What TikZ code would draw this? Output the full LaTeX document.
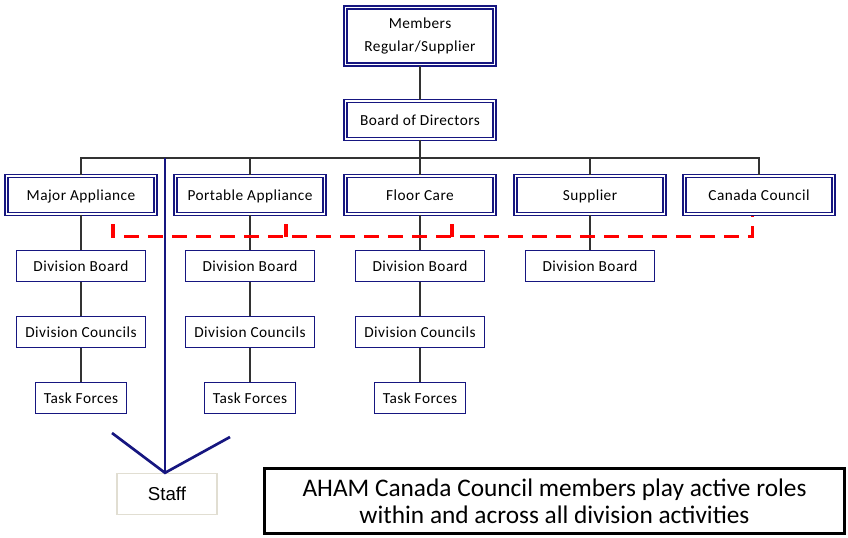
\documentclass[tikz,border=0pt]{standalone}
\usepackage{fontspec}
\setmainfont{Carlito}
\newfontfamily\boxfont[LetterSpace=3]{Carlito}
\newfontfamily\stafffont{Liberation Sans}
\usetikzlibrary{positioning}
\definecolor{orgnavy}{RGB}{22,22,128}
\definecolor{linkgray}{RGB}{50,50,50}
\definecolor{staffedge}{RGB}{225,222,210}
\tikzstyle{topbox} = [rectangle, draw=orgnavy, line width=1.3pt, double=white, double distance=0.9pt, minimum width=112pt, minimum height=28.6pt, align=center, text height=1.7ex, text depth=0ex, font=\boxfont\fontsize{11.5}{17}\selectfont]
\tikzstyle{divbox} = [rectangle, draw=orgnavy, line width=1.1pt, minimum width=97pt, minimum height=23.6pt, text height=1.7ex, text depth=0ex, font=\boxfont\fontsize{11.5}{13}\selectfont]
\tikzstyle{taskbox} = [divbox, minimum width=68pt]
\tikzstyle{staffbox} = [rectangle, draw=staffedge, line width=0.8pt, minimum width=75pt, minimum height=31pt, font=\stafffont\fontsize{14}{16}\selectfont]
\tikzstyle{notebox} = [rectangle, draw=black, line width=2.2pt, minimum width=435pt, minimum height=49pt, align=center, font=\fontsize{19}{20.5}\selectfont]
\tikzstyle{link} = [draw=linkgray, line width=1pt]
\tikzstyle{stafflink} = [draw=orgnavy, line width=2pt]
\tikzstyle{crossdash} = [draw=red, line width=2.3pt, dash pattern=on 11pt off 7pt]

\begin{document}
\begin{tikzpicture}[node distance=49.5pt, x=0.75pt, y=0.75pt]
\useasboundingbox (0,0) rectangle (848,-537);

%% NODES
\node (members) [topbox, minimum height=43pt, text height=, text depth=] at (420,-36) {Members\\Regular/Supplier};
\node (board) [topbox, below of=members, yshift=-13.5pt] {Board of Directors};
\node (floor) [topbox, below of=board, yshift=-6.75pt] {Floor Care};
\node (portable) [topbox, left of=floor, xshift=-78pt] {Portable Appliance};
\node (major) [topbox, left of=portable, xshift=-77.25pt] {Major Appliance};
\node (supplier) [topbox, right of=floor, xshift=78pt] {Supplier};
\node (canada) [topbox, right of=supplier, xshift=77.25pt] {Canada Council};

\node (majboard) [divbox, below of=major, yshift=-3.75pt] {Division Board};
\node (majcouncils) [divbox, below of=majboard] {Division Councils};
\node (majtask) [taskbox, below of=majcouncils] {Task Forces};
\node (porboard) [divbox, below of=portable, yshift=-3.75pt] {Division Board};
\node (porcouncils) [divbox, below of=porboard] {Division Councils};
\node (portask) [taskbox, below of=porcouncils] {Task Forces};
\node (flboard) [divbox, below of=floor, yshift=-3.75pt] {Division Board};
\node (flcouncils) [divbox, below of=flboard] {Division Councils};
\node (fltask) [taskbox, below of=flcouncils] {Task Forces};
\node (supboard) [divbox, below of=supplier, yshift=-3.75pt] {Division Board};

\node (staff) [staffbox] at (167,-494) {Staff};
\node (note) [notebox] at (554.5,-501) {AHAM Canada Council members play active roles\\within and across all division activities};

\coordinate (bus) at (420,-158);
\coordinate (armL) at (112,-433);
\coordinate (armR) at (230,-437);

%% ARROWS
\draw [link] (members) -- (board);
\draw [link] (board) -- (floor);
\draw [link] (major.north) -- (major.north |- bus) -- (canada.north |- bus) -- (canada.north);
\draw [link] (portable.north) -- (portable.north |- bus);
\draw [link] (supplier.north) -- (supplier.north |- bus);
\draw [link] (major) -- (majboard);
\draw [link] (majboard) -- (majcouncils);
\draw [link] (majcouncils) -- (majtask);
\draw [link] (portable) -- (porboard);
\draw [link] (porboard) -- (porcouncils);
\draw [link] (porcouncils) -- (portask);
\draw [link] (floor) -- (flboard);
\draw [link] (flboard) -- (flcouncils);
\draw [link] (flcouncils) -- (fltask);
\draw [link] (supplier) -- (supboard);

\draw [stafflink] ([xshift=-1.5pt]staff.north) -- ([xshift=-1.5pt]staff.north |- bus);
\draw [stafflink] (armL) -- ([xshift=-1.5pt]staff.north) -- (armR);

\draw [crossdash] ([xshift=24pt, yshift=-7pt]major.south) -- ([xshift=24pt, yshift=-16.5pt]major.south) -- ([xshift=-5pt, yshift=-16.5pt]canada.south) -- ([xshift=-5pt, yshift=-1pt]canada.south);
\draw [crossdash] ([xshift=27pt, yshift=-7pt]portable.south) -- ([xshift=27pt, yshift=-16.5pt]portable.south);
\draw [crossdash] ([xshift=24pt, yshift=-7pt]floor.south) -- ([xshift=24pt, yshift=-16.5pt]floor.south);
\end{tikzpicture}
\end{document}
